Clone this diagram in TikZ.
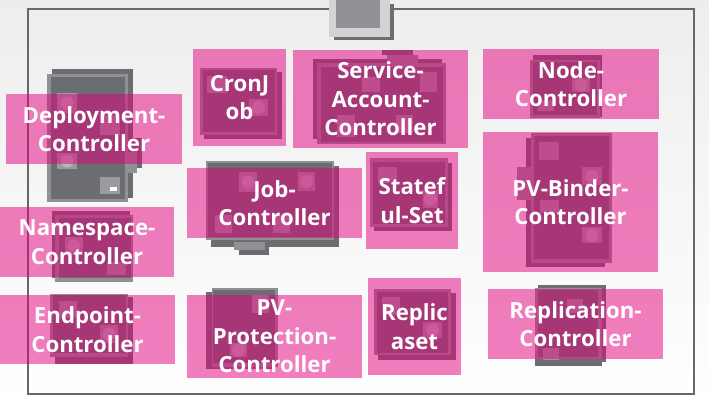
\documentclass[tikz,border=0pt]{standalone}
\usepackage{fontspec}
\setmainfont{Open Sans}
\definecolor{sheetbg}{HTML}{F3F3F3}
\definecolor{framegray}{HTML}{66686A}
\definecolor{carddark}{HTML}{6B6D70}
\definecolor{cardlight}{HTML}{8F9194}
\definecolor{tilegray}{HTML}{999B9E}
\definecolor{dotgray}{HTML}{B4B6B8}
\definecolor{magentapink}{HTML}{E4007F}
\tikzset{
  cardback/.style={fill=carddark},
  cardedge/.style={fill=cardlight},
  cardface/.style={fill=carddark},
  tile/.style={fill=tilegray},
  dot/.style={fill=dotgray},
  ctrl/.style={fill=magentapink, fill opacity=0.5, text opacity=1, text=white,
    align=center, inner sep=0pt, font=\bfseries\fontsize{22.2}{28.5}\selectfont,
    execute at begin node={\rule{0pt}{20pt}}},
}
\begin{document}
\begin{tikzpicture}[x=1pt,y=-1pt]
  \useasboundingbox (0,0) rectangle (709,405);
  \shade[top color=sheetbg!95!gray, bottom color=white] (0,0) rectangle (709,405);
  \draw[framegray, line width=2pt] (28,9) rectangle (694,394);
  % master tile at the top
  \fill[carddark] (334,4) rectangle (394,40);
  \fill[cardlight!40!white] (329,0) rectangle (390,37);
  \fill[cardlight] (336,0) rectangle (380,28);
  % cards under the labels
  \foreach \xa/\ya/\xb/\yb in {
      52/69/133/198, 128/138/142/168,
      204/72/282/139, 313/59/442/139, 382/50/413/55,
      533/55/602/117, 526/138/531/167, 526/167/605/267,
      211/166/339/247, 239/247/269/255, 374/163/452/231,
      378/293/456/360, 538/285/606/362, 535/359/602/366,
      52/211/130/278, 55/297/133/364, 206/292/275/369}
    \fill[cardback] (\xa,\ya) rectangle (\xb,\yb);
  \foreach \xa/\ya/\xb/\yb in {
      47/74/128/202, 128/152/137/173,
      200/68/277/135, 317/63/446/144, 387/55/418/65,
      530/60/600/118, 517/167/531/200, 531/133/612/263,
      206/161/334/240, 234/242/265/250, 370/158/448/227,
      374/289/451/355, 535/288/602/359,
      55/215/133/282, 50/294/128/357, 212/288/278/367}
    \fill[cardedge] (\xa,\ya) rectangle (\xb,\yb);
  \foreach \xa/\ya/\xb/\yb in {
      51/77/125/199,
      203/70/275/132, 321/67/443/142,
      533/62/597/115, 534/136/609/259,
      208/163/332/237, 373/162/445/224,
      377/292/448/353, 538/290/598/357,
      59/218/131/278, 53/295/126/353, 213/290/275/363}
    \fill[cardface] (\xa,\ya) rectangle (\xb,\yb);
  % small tiles, the ones in the second list carry a dot
  \foreach \xa/\ya/\xb/\yb in {
      100/115/120/135, 100/177/120/194,
      207/76/227/93, 362/77/380/92, 420/72/437/92, 337/115/355/137, 396/115/413/133,
      538/100/554/111, 539/142/559/160, 540/200/559/213,
      215/215/232/233, 273/215/290/233, 378/167/397/183,
      382/297/400/315, 567/299/583/313, 543/348/559/360,
      107/262/126/275, 59/301/77/318, 252/295/269/313}
    \fill[tile] (\xa,\ya) rectangle (\xb,\yb);
  \foreach \xa/\ya/\xb/\yb in {
      57/93/77/113, 57/153/77/169,
      249/99/268/116, 572/78/590/92, 582/167/602/185, 582/227/602/243,
      239/172/257/192, 298/172/315/191, 423/190/438/208,
      423/322/442/338, 65/237/83/255, 100/325/118/343, 230/343/247/357}{
    \fill[tile] (\xa,\ya) rectangle (\xb,\yb);
    \fill[dot] ({(\xa+\xb)/2},{(\ya+\yb)/2}) circle (6.5);
  }
  \fill[white] (110,187) rectangle (117,191);
  % controllers
  \node[ctrl, minimum width=176, minimum height=70] (deployment) at (94,129) {Deployment-\\Controller};
  \node[ctrl, minimum width=93, minimum height=97] (cronjob) at (239.5,97.5) {CronJ\\ob};
  \node[ctrl, minimum width=175, minimum height=98] (serviceaccount) at (380.5,99) {Service-\\Account-\\Controller};
  \node[ctrl, minimum width=176, minimum height=70] (nodectrl) at (571,84) {Node-\\Controller};
  \node[ctrl, minimum width=175, minimum height=140] (pvbinder) at (570.5,202) {PV-Binder-\\Controller};
  \node[ctrl, minimum width=175, minimum height=70] (job) at (274.5,203) {Job-\\Controller};
  \node[ctrl, minimum width=92, minimum height=97] (statefulset) at (412,200.5) {Statef\\ul-Set};
  \node[ctrl, minimum width=174, minimum height=70] (namespace) at (87,242) {Namespace-\\Controller};
  \node[ctrl, minimum width=175, minimum height=69] (endpoint) at (87.5,329.5) {Endpoint-\\Controller};
  \node[ctrl, minimum width=175, minimum height=83] (pvprotection) at (274.5,336.5) {PV-\\Protection-\\Controller};
  \node[ctrl, minimum width=93, minimum height=97] (replicaset) at (414.5,326.5) {Replic\\aset};
  \node[ctrl, minimum width=175, minimum height=70] (replication) at (575.5,324) {Replication-\\Controller};
\end{tikzpicture}
\end{document}
